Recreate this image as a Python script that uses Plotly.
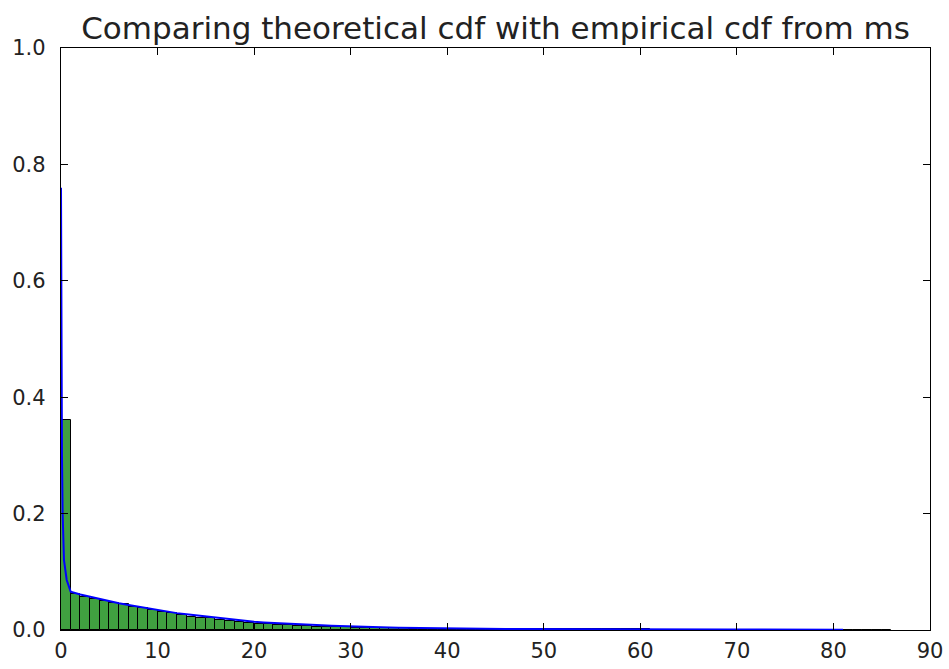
import plotly.graph_objects as go

# Empirical histogram (bins of width 1 starting at 0)
bin_left = list(range(0, 86))
bar_heights = [
    0.360, 0.062, 0.057, 0.054, 0.050, 0.047, 0.045, 0.040, 0.037, 0.034,
    0.031, 0.029, 0.025, 0.023, 0.021, 0.020, 0.018, 0.016, 0.014, 0.012,
    0.011, 0.010, 0.009, 0.008, 0.0075, 0.007, 0.006, 0.0055, 0.005, 0.0045,
    0.004, 0.004, 0.0035, 0.003, 0.003, 0.003, 0.0025, 0.0025, 0.002, 0.002,
    0.002, 0.002, 0.0018, 0.0017, 0.0016, 0.0015, 0.0015, 0.0014, 0.0013, 0.0013,
    0.0012, 0.0012, 0.0011, 0.0011, 0.001, 0.001, 0.001, 0.001, 0.0009, 0.0009,
    0.0009, 0.0008, 0.0008, 0.0008, 0.0008, 0.0007, 0.0007, 0.0007, 0.0007, 0.0006,
    0.0006, 0.0006, 0.0006, 0.0006, 0.0005, 0.0005, 0.0005, 0.0005, 0.0005, 0.0005,
    0.0004, 0.0004, 0.0004, 0.0004, 0.0004, 0.0004,
]

# Theoretical curve
line_x = [0, 0.05, 0.1, 0.17, 0.31, 0.59, 1] + list(range(2, 87))
line_y = [
    0.76, 0.45, 0.30, 0.20, 0.12, 0.086, 0.066,
    0.061, 0.057, 0.053, 0.050, 0.046, 0.043, 0.040, 0.037, 0.034,
    0.032, 0.029, 0.027, 0.025, 0.023, 0.021, 0.019, 0.017, 0.015,
    0.014, 0.013, 0.012, 0.011, 0.010, 0.009, 0.0085, 0.008, 0.0072, 0.0065,
    0.006, 0.0055, 0.005, 0.0046, 0.0042, 0.0038, 0.0035, 0.0032, 0.003, 0.0028,
    0.0026, 0.0024, 0.0022, 0.0021, 0.002, 0.0019, 0.0018, 0.0017, 0.0016, 0.0015,
    0.0014, 0.0014, 0.0013, 0.0013, 0.0012, 0.0012, 0.0011, 0.0011, 0.001, 0.001,
    0.001, 0.0009, 0.0009, 0.0009, 0.0008, 0.0008, 0.0008, 0.0008, 0.0007, 0.0007,
    0.0007, 0.0007, 0.0006, 0.0006, 0.0006, 0.0006, 0.0006, 0.0005, 0.0005, 0.0005,
    0.0005, 0.0005,
]

x_ticks = [0, 10, 20, 30, 40, 50, 60, 70, 80, 90]
y_ticks = [0.0, 0.2, 0.4, 0.6, 0.8, 1.0]

fig = go.Figure()
fig.add_trace(go.Bar(
    x=[b + 0.5 for b in bin_left], y=bar_heights, width=1,
    marker=dict(color="rgba(0,128,0,0.75)", line=dict(color="black", width=1)),
    showlegend=False,
))
fig.add_trace(go.Scatter(
    x=line_x, y=line_y, mode="lines",
    line=dict(color="#0000ff", width=2), showlegend=False,
))

axis_common = dict(
    showgrid=False, zeroline=False, showline=True, linecolor="black", linewidth=1.3,
    mirror="allticks", ticks="inside", ticklen=7, tickcolor="black",
    tickfont=dict(family="DejaVu Sans", size=21, color="#222"),
)
fig.update_xaxes(range=[0, 90], tickvals=x_ticks, automargin=False,
                 ticklabelstandoff=2, **axis_common)
fig.update_yaxes(range=[0, 1], tickvals=y_ticks, tickformat=".1f", automargin=False,
                 ticklabelstandoff=10, **axis_common)

fig.update_layout(
    width=949, height=669,
    margin=dict(l=61, r=19, t=48, b=39),
    paper_bgcolor="white", plot_bgcolor="white",
    bargap=0,
    title=dict(text="Comparing theoretical cdf with empirical cdf from ms",
               xref="paper", x=0.5, xanchor="center", y=0.958, yanchor="middle",
               font=dict(family="DejaVu Sans", size=31, color="#222")),
)

fig.write_html("out.html", config={"displayModeBar": False},
               post_script="document.body.style.margin='0';")
